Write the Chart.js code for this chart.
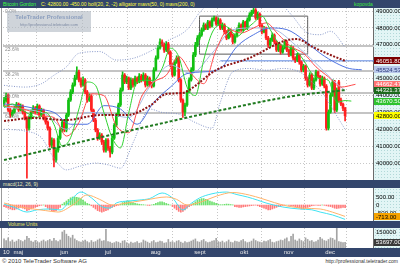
<!DOCTYPE html>
<html><head><meta charset="utf-8">
<script src="https://cdn.jsdelivr.net/npm/chart.js@4.4.1/dist/chart.umd.min.js"></script>
<style>
html,body{margin:0;padding:0;}
body{width:400px;height:266px;overflow:hidden;background:#fff;position:relative;font-family:"Liberation Sans",Arial,sans-serif;}
.band{position:absolute;left:0;width:400px;background-color:#1a2b4d;background-image:radial-gradient(circle,#41557e 0.6px,transparent 0.9px);background-size:2px 2px;white-space:nowrap;overflow:hidden;}
.axbg{position:absolute;left:374px;width:26px;background-color:#e2f5f5;background-image:radial-gradient(circle,#b2d8d8 0.6px,transparent 0.9px);background-size:3px 3px;}
.vline{position:absolute;left:373px;width:1px;background:#6a6a6a;}
canvas{position:absolute;left:0;}
</style></head><body>

<div class="band" style="top:0;height:8px;font-size:5px;line-height:8px;">
 <span style="position:absolute;left:3px;color:#3cff3c">Bitcoin Gordon</span>
 <span style="position:absolute;left:41px;color:#ffff3c">C: 42800.00 -450.00 boll(20, 2, -2) alligator mavs(50, 0) mavs(200, 0)</span>
 <span style="position:absolute;left:354px;color:#3ce63c">kopovda</span>
</div>
<div class="axbg" style="top:8px;height:172px"></div>
<div class="axbg" style="top:188px;height:33px"></div>
<div class="axbg" style="top:228px;height:20px"></div>
<div class="vline" style="top:8px;height:240px"></div>
<div style="position:absolute;left:1px;top:8px;width:1px;height:240px;background:#9a9a9a"></div>

<canvas id="cMain" width="400" height="172" style="top:8px;width:400px;height:172px"></canvas>
<div class="band" style="top:180px;height:8px;font-size:5px;line-height:8px;"><span style="position:absolute;left:3px;color:#e8e8b8">macd(12, 26, 9)</span></div>
<canvas id="cMacd" width="400" height="33" style="top:188px;width:400px;height:33px"></canvas>
<div class="band" style="top:221px;height:7px;font-size:5px;line-height:7px;"><span style="position:absolute;left:8px;color:#e8e860">Volume Units</span></div>
<div class="band" style="top:248px;height:9px;"></div>
<canvas id="cVol" width="400" height="29" style="top:228px;width:400px;height:29px"></canvas>

<div style="position:absolute;left:7px;top:11px;width:84px;height:21px;background:rgba(178,185,196,0.62);text-align:center;">
 <div style="font-weight:bold;font-size:6px;line-height:9px;margin-top:2px;color:#8ea0bf;">TeleTrader Professional</div>
 <div style="font-size:4px;line-height:6px;color:#7d8aa3;">http://professional.teletrader.com</div>
</div>
<div style="position:absolute;left:0;top:257px;width:400px;height:9px;background:#fff;font-size:6px;line-height:9px;color:#333;">
 <span style="position:absolute;left:2px;">© 2010 TeleTrader Software AG</span>
 <span style="position:absolute;right:2px;font-size:5px;">http://professional.teletrader.com</span>
</div>

<script>
// ---------- DATA ----------
const monthLabels = ['10','maj','jun','jul','aug','sept','okt','nov','dec'];
const monthStart  = [-0.5, 4.5, 27, 48.5, 70.5, 91.5, 113.5, 134.5, 154.5];

const opens = [43500,43700,44030,43140,42840,43020,43260,43490,43140,43380,
 43020,42670,42070,42670,43020,43260,43020,43380,42840,43140,
 42670,42430,42070,41070,41360,40180,40770,41480,41960,42430,
 41960,42840,43730,44210,44620,45030,45390,44920,44620,44920,
 44210,43730,43970,43140,42550,41960,41480,41660,41250,40770,
 41360,40890,40650,41480,42250,42840,43440,44320,45210,44800,
 45030,44440,44920,44620,45030,44800,45150,44920,45210,44620,
 45030,44680,44560,45510,46220,46810,47170,46990,46690,47050,
 46570,45800,45210,45980,46220,44920,43730,43020,43440,44210,
 44920,45510,46400,46990,47400,47580,47880,48170,47990,48350,
 48110,48470,48590,48230,48470,47990,48170,47760,47400,47880,
 47580,47170,47520,47880,48170,47880,48350,47990,48470,48760,
 48940,49060,48590,48820,48170,47760,47990,47400,46990,47280,
 47580,47170,46690,46990,46570,46810,47170,46690,46400,46810,
 46220,46100,46400,45980,45510,45740,45030,44620,45210,44440,
 44920,45390,45150,44680,45030,44560,42070,43020,44030,44800,
 43140,44800,43730,43490,43250];
const closes = [43730,44030,43140,42840,43020,43260,43490,43140,43380,43020,
 42670,42070,42670,43020,43260,43020,43380,42840,43140,42670,
 42430,42070,41070,41360,40180,40770,41480,41960,42430,41960,
 42840,43730,44210,44620,45030,45390,44920,44620,44920,44210,
 43730,43970,43140,42550,41960,41480,41660,41250,40770,41360,
 40890,40650,41480,42250,42840,43440,44320,45210,44800,45030,
 44440,44920,44620,45030,44800,45150,44920,45210,44620,45030,
 44680,44560,45510,46220,46810,47170,46990,46690,47050,46570,
 45800,45210,45980,46220,44920,43730,43020,43440,44210,44920,
 45510,46400,46990,47400,47580,47880,48170,47990,48350,48110,
 48470,48590,48230,48470,47990,48170,47760,47400,47880,47580,
 47170,47520,47880,48170,47880,48350,47990,48470,48760,48940,
 49060,48590,48820,48170,47760,47990,47400,46990,47280,47580,
 47170,46690,46990,46570,46810,47170,46690,46400,46810,46220,
 46100,46400,45980,45510,45740,45030,44620,45210,44440,44920,
 45390,45150,44680,45030,44560,42070,43020,44030,44800,43140,
 44320,43730,43490,43250,42800];
const highs = [43900,44150,44100,43250,43150,43380,43600,43560,43500,43450,
 43100,42750,42800,43150,43400,43350,43500,43450,43250,43200,
 42750,42500,42150,41500,41450,40900,41600,42100,42550,42500,
 42950,43850,44350,44750,45200,45700,45500,45050,45100,45000,
 44300,44100,44050,43200,42650,42050,41800,41750,41350,41450,
 41450,41000,41600,42350,42950,43550,44450,45400,45300,45150,
 45100,45050,45000,45150,45100,45300,45250,45350,45300,45150,
 45100,44800,45650,46350,46950,47350,47300,47100,47200,47150,
 46650,45900,46100,46350,46300,45000,43800,43550,44300,45050,
 45650,46550,47150,47550,47700,48000,48300,48250,48450,48420,
 48600,48700,48650,48600,48550,48300,48250,47850,48000,47950,
 47650,47650,48000,48300,48250,48450,48400,48600,48900,49050,
 49300,49150,48950,48900,48250,48100,48050,47500,47400,47700,
 47650,47250,47100,47050,46950,47300,47250,46750,46950,46900,
 46300,46500,46450,46050,45850,45800,45100,45350,45300,45050,
 45500,45450,45200,45150,45100,44650,43150,44150,44950,44900,
 44450,44900,43850,43550,43300];
const lows = [43350,43600,43050,42700,42750,42950,43200,43050,43080,42900,
 42550,39110,41950,42600,42950,42900,42950,42750,42750,42550,
 42300,41950,40950,40900,39770,40050,40650,41400,41850,41850,
 41850,42750,43650,44100,44550,44950,44800,44500,44550,44100,
 43600,43650,43050,42450,41850,41350,41400,41100,40650,40650,
 40750,40350,40550,41400,42150,42750,43350,44250,44700,44700,
 44350,44350,44500,44550,44700,44750,44800,44850,44500,44550,
 44550,44450,44500,45450,46150,46750,46900,46550,46600,46450,
 45700,45100,45150,45900,44800,43600,42700,42800,43350,44150,
 44850,45450,46300,46900,47300,47500,47800,47900,47900,48000,
 48050,48400,48150,48150,47900,47900,47650,47300,47350,47450,
 47050,47100,47450,47800,47800,47800,47900,47900,48400,48700,
 48850,48500,48500,48050,47650,47700,47300,46850,46900,47200,
 47050,46600,46600,46450,46500,46750,46600,46300,46350,46100,
 45950,46000,45850,45400,45400,44900,44500,44550,44350,44350,
 44850,45050,44550,44600,44450,41950,41960,42950,43950,43000,
 43050,43600,43400,43100,42500];
const volumes = [85000,70000,95000,60000,75000,55000,65000,80000,70000,60000,
 75000,110000,90000,65000,55000,70000,60000,50000,65000,75000,
 60000,70000,80000,65000,90000,70000,60000,75000,150000,165000,
 130000,110000,95000,120000,85000,70000,60000,55000,65000,75000,
 60000,50000,70000,55000,60000,75000,85000,65000,70000,175000,
 60000,55000,45000,50000,60000,55000,45000,65000,70000,50000,
 40000,55000,45000,50000,60000,45000,50000,75000,65000,55000,
 45000,60000,70000,50000,55000,65000,60000,45000,50000,80000,
 55000,60000,50000,65000,70000,55000,45000,60000,50000,55000,
 65000,75000,85000,60000,55000,70000,80000,60000,50000,55000,
 65000,70000,90000,60000,55000,65000,50000,60000,75000,55000,
 50000,65000,60000,55000,70000,80000,60000,50000,55000,65000,
 85000,70000,60000,55000,50000,65000,60000,70000,80000,55000,
 50000,60000,65000,75000,70000,85000,95000,60000,110000,130000,
 75000,65000,85000,70000,60000,95000,80000,65000,70000,55000,
 60000,75000,100000,85000,70000,65000,80000,95000,90000,75000,
 185000,60000,55000,50000,53697];
const macdHist = [-100,-150,-200,-250,-300,-300,-250,-200,-150,-200,
 -250,-350,-300,-250,-200,-150,-100,-50,-20,0,
 -100,-200,-300,-350,-400,-350,-250,-150,50,150,
 250,350,450,500,500,480,450,400,300,200,
 100,50,-50,-150,-250,-350,-400,-450,-400,-350,
 -300,-200,-150,-100,-50,-20,50,150,200,250,
 250,200,150,100,80,50,30,20,0,-20,
 -30,10,40,100,150,200,200,150,100,50,
 0,-100,-200,-300,-400,-450,-400,-300,-200,-100,
 -30,100,200,300,350,400,400,350,300,250,
 200,150,100,50,20,20,40,60,50,30,
 10,-100,-120,-150,-150,-120,-100,-80,-60,-40,
 -20,-10,-50,-100,-150,-200,-250,-300,-300,-250,
 -200,-150,-100,-60,-30,-10,0,-20,-50,-80,
 -100,-150,-200,-250,-250,-200,-150,-100,-50,-30,
 -10,-20,-30,0,-20,-50,-80,-100,-150,-200,
 -220,-200,-180,-150,-160];
const macdLine = [[0,50],[5,-150],[11,-440],[16,-300],[22,-250],[27,-310],[32,300],[37,810],[42,450],[47,-100],[51,-190],[54,125],[60,250],[65,310],[70,400],[76,750],[81,440],[86,-310],[90,100],[94,440],[100,700],[107,810],[112,650],[117,500],[122,300],[126,125],[134,-125],[142,-250],[148,-300],[152,-440],[158,-625],[164,-900]];
const signalLine = [[0,125],[7,-100],[14,-250],[20,-350],[26,-440],[33,0],[40,625],[46,350],[52,0],[58,100],[68,310],[78,500],[83,350],[88,0],[95,200],[102,550],[110,780],[118,620],[124,400],[130,150],[136,-60],[144,-200],[152,-250],[158,-450],[164,-713]];

const lips  = [[0,43300],[4,43500],[8,43200],[12,42900],[16,42700],[20,43000],[24,42300],[28,41000],[32,41500],[36,43200],[40,44800],[44,44600],[48,43000],[52,41500],[56,40900],[60,43000],[64,44800],[68,44900],[72,44900],[76,45600],[80,46800],[84,46300],[88,44500],[92,44000],[96,46100],[100,47700],[104,48200],[108,48000],[112,47500],[116,47900],[120,48300],[124,48700],[128,47900],[132,47100],[136,46900],[140,46700],[144,46100],[148,45300],[152,45000],[156,44900],[160,43600],[164,43700],[167,43670.5]];
const teeth = [[0,43400],[6,43300],[12,43100],[18,42800],[24,42700],[30,41600],[36,42400],[42,44100],[48,44000],[54,42200],[60,41800],[66,43900],[72,44800],[78,45200],[84,46300],[90,45300],[96,44700],[102,46700],[108,47900],[114,47700],[120,48000],[126,48300],[132,47600],[138,46900],[144,46500],[150,45700],[156,45100],[162,44500],[169,44662.47]];
const jaw   = [[0,43500],[8,43400],[16,43200],[24,43000],[32,42300],[40,42300],[48,43400],[56,43200],[64,42300],[72,43600],[80,44500],[88,45300],[96,45400],[104,45600],[112,46900],[120,47600],[128,48000],[136,47900],[144,47300],[152,46500],[160,45900],[166,45600],[172,45524.53]];
const bollMid   = [[0,43300],[10,43200],[20,42900],[30,42000],[40,43000],[50,42900],[60,42700],[70,44500],[80,45800],[90,45300],[100,46500],[110,47900],[120,48000],[130,47900],[140,47000],[150,45900],[160,44700],[164,44300]];
const bollUpper = [[0,44600],[10,44500],[18,44700],[24,45200],[30,45700],[36,46500],[46,46600],[54,46100],[62,46200],[70,46600],[78,47200],[88,47900],[94,48900],[100,49500],[108,49400],[116,49300],[124,49600],[132,49500],[138,48800],[146,47700],[152,47600],[157,47800],[164,46870]];
const bollLower = [[0,42000],[10,41900],[18,41500],[24,40300],[30,39600],[36,39800],[44,40000],[50,39900],[56,39700],[62,41200],[70,43200],[76,43000],[84,42900],[92,42400],[100,42070],[104,43600],[110,45400],[118,45600],[126,45500],[134,45600],[142,45400],[148,44800],[154,44000],[160,42800],[164,42000]];
const mav50  = [[0,42490],[14,42670],[30,42550],[46,42840],[59,42840],[70,43380],[78,44090],[86,44150],[89,44320],[102,45510],[118,46220],[136,47280],[141,47340],[148,46900],[156,46450],[164,46051.8]];
const mav200 = [[0,40180],[35,41200],[70,42190],[105,43150],[142,44030],[155,44200],[164,44321.37]];

const fibLevels = [49300, 46930, 45450, 44150, 42960];
const fibNames  = ['0.0%','23.6%','38.2%','50.0%','61.8%'];
const hLineLevel = 46051.8, hLineFrom = 104;
const boxDays = [94, 146], boxPrices = [46450, 48700];

const priceTicks = [40000,41000,42000,43000,44000,45000,46000,47000,48000,49000];
const macdTicks = [500, 0, -500];
const volTicks = [150000];
const priceMarkers = [46051.80, 45524.53, 44662.47, 44321.37, 43670.50, 42800.00];
const macdMarker = -713.00, volMarker = 53697.00;

// ---------- STYLE / HELPERS ----------
const FONT = '"Liberation Sans", Arial, sans-serif';
const X_MIN = -0.5, X_MAX = 177.9;
const markerStyle = [['#7b0000','#fff'],['#b8c8ea','#2a3a7a'],['#ff7373','#fff'],['#1c6a1c','#fff'],['#2ec22e','#fff'],['#ffff00','#000']];

function xScale(show){
  return {type:'linear', min:X_MIN, max:X_MAX, offset:false,
    afterBuildTicks:s=>{ s.ticks = monthStart.map(v=>({value:v})); },
    afterFit:s=>{ s.height = show?9:0; s.paddingLeft=0; s.paddingRight=0; },
    grid:{color:'#c6c6c6', drawTicks:false, lineWidth:1},
    border:{display:false, dash:[1,2]},
    ticks:{display:show, autoSkip:false, maxRotation:0, minRotation:0, align:'start', padding:1,
      color:'#e6e6e6', font:{size:6, family:FONT}, callback:(v,i)=>monthLabels[i]}
  };
}
function yScale(min,max,ticks,fmt,grid){
  return {position:'right', min:min, max:max,
    afterBuildTicks:s=>{ s.ticks = ticks.map(v=>({value:v})); },
    afterFit:s=>{ s.width=26; s.paddingTop=0; s.paddingBottom=0; },
    grid:{display:grid, color:'#c8c8c8', drawTicks:false},
    border:{display:false, dash:[1,2]},
    ticks:{color:'#000', padding:2, font:{size:6, family:FONT}, callback:fmt}
  };
}
const pts = a => a.map(p=>({x:p[0], y:p[1]}));
function line(a,color,w,dash,ord,tension){
  return {type:'line', data:pts(a), borderColor:color, borderWidth:w, borderDash:dash||[],
    pointRadius:0, tension:(tension===undefined?0.4:tension), cubicInterpolationMode:'monotone', fill:false, order:ord};
}
const overlay = {
  id:'overlay',
  afterDraw(chart, args, o){
    const ctx=chart.ctx, ys=chart.scales.y, a=chart.chartArea;
    ctx.save();
    ctx.font='6px '+FONT; ctx.textAlign='left'; ctx.textBaseline='middle';
    (o.markers||[]).forEach(m=>{
      const py=ys.getPixelForValue(m.v);
      ctx.fillStyle=m.bg; ctx.fillRect(a.right, Math.round(py-3.5), 26, 7);
      ctx.fillStyle=m.fg; ctx.fillText(m.text, a.right+2, py+0.5);
    });
    ctx.font='5px '+FONT; ctx.textBaseline='top'; ctx.fillStyle='#8a8a8a';
    (o.fib||[]).forEach(f=>{
      const py=Math.max(ys.getPixelForValue(f.v), a.top);
      ctx.fillText(f.label, a.left+2, py+1);
    });
    ctx.restore();
  }
};
const baseOpts = {responsive:false, animation:false, devicePixelRatio:1, events:[],
  layout:{padding:{left:3,right:0,top:0,bottom:0}}};

// ---------- MAIN PRICE CHART ----------
const candleColor = i => closes[i]>=opens[i] ? '#12c012' : '#ff2020';
const boxLine = [[boxDays[0],boxPrices[0]],[boxDays[0],boxPrices[1]],[boxDays[1],boxPrices[1]],[boxDays[1],boxPrices[0]],[boxDays[0],boxPrices[0]]];
const mainDatasets = [
  ...fibLevels.map(v=>line([[X_MIN,v],[X_MAX,v]],'#c4c4c4',2,[],40,0)),
  line([[hLineFrom,hLineLevel],[X_MAX,hLineLevel]],'#5b86e0',1,[],39,0),
  line(boxLine,'#5a5a5a',1,[],38,0),
  {type:'bar', data:lows.map((l,i)=>({x:i,y:[l,highs[i]]})), backgroundColor:c=>candleColor(c.dataIndex),
    barThickness:1, grouped:false, borderWidth:0, order:21},
  {type:'bar', data:opens.map((o,i)=>({x:i,y:[Math.min(o,closes[i]),Math.max(o,closes[i])+(o===closes[i]?20:0)]})),
    backgroundColor:c=>candleColor(c.dataIndex), barThickness:2, grouped:false, borderWidth:0, order:20},
  line(bollUpper,'#8596c8',1,[1,1.5],6),
  line(bollLower,'#8596c8',1,[1,1.5],6),
  line(bollMid,'#a9bbe2',1,[],6),
  line(jaw,'#4f73e0',1,[],5),
  line(teeth,'#ff4a4a',1,[],4),
  line(lips,'#2ed22e',1,[],3),
  line(mav50,'#8e1414',2,[2,1.5],2),
  line(mav200,'#1f7a1f',2,[3,2],1)
];
new Chart(document.getElementById('cMain'), {
  type:'bar', data:{datasets:mainDatasets},
  options:{...baseOpts,
    scales:{x:xScale(false), y:yScale(39000,49180,priceTicks,v=>v.toFixed(2),true)},
    plugins:{legend:{display:false}, tooltip:{enabled:false},
      overlay:{markers:priceMarkers.map((v,i)=>({v:v,text:v.toFixed(2),bg:markerStyle[i][0],fg:markerStyle[i][1]})),
               fib:fibLevels.map((v,i)=>({v:v,label:fibNames[i]}))}}
  },
  plugins:[overlay]
});

// ---------- MACD ----------
new Chart(document.getElementById('cMacd'), {
  type:'bar',
  data:{datasets:[
    {type:'bar', data:macdHist.map((v,i)=>({x:i,y:v})), backgroundColor:c=>macdHist[c.dataIndex]>=0?'#6fe06f':'#ff7a7a',
      barThickness:1, grouped:false, borderWidth:0, order:10},
    line(macdLine,'#3fe3f2',1,[],2),
    line(signalLine,'#ffb36a',1,[],1)
  ]},
  options:{...baseOpts,
    scales:{x:xScale(false), y:yScale(-1000,1062,macdTicks,v=>v===0?'0':v.toFixed(2),false)},
    plugins:{legend:{display:false}, tooltip:{enabled:false},
      overlay:{markers:[{v:macdMarker,text:macdMarker.toFixed(2),bg:'#f5a200',fg:'#000'}]}}
  },
  plugins:[overlay]
});

// ---------- VOLUME ----------
new Chart(document.getElementById('cVol'), {
  type:'bar',
  data:{datasets:[
    {type:'bar', data:volumes.map((v,i)=>({x:i,y:v})), backgroundColor:'#a4a4a4', barThickness:1, grouped:false, borderWidth:0}
  ]},
  options:{...baseOpts,
    scales:{x:xScale(true), y:yScale(0,187500,volTicks,v=>String(v),false)},
    plugins:{legend:{display:false}, tooltip:{enabled:false},
      overlay:{markers:[{v:volMarker,text:volMarker.toFixed(2),bg:'#3a3a3a',fg:'#fff'}]}}
  },
  plugins:[overlay]
});
</script>
</body></html>
